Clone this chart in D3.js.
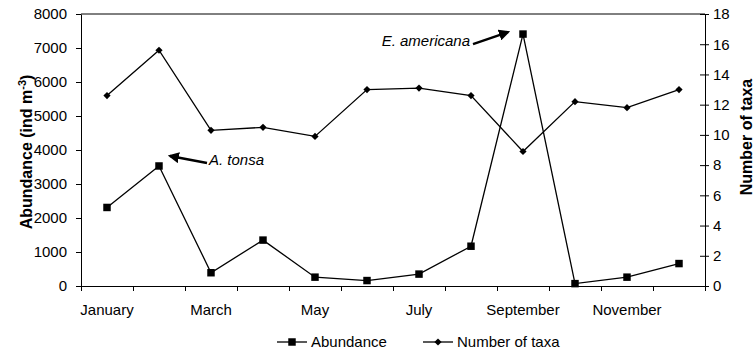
<!DOCTYPE html>
<html>
<head>
<meta charset="utf-8">
<script src="https://cdn.jsdelivr.net/npm/d3@7"></script>
<style>
  body { margin: 0; background: #fff; }
  text { font-family: "Liberation Sans", Arial, sans-serif; fill: #000; }
</style>
</head>
<body>
<svg id="chart" width="755" height="351"></svg>
<script>
const months = ["January", "February", "March", "April", "May", "June",
  "July", "August", "September", "October", "November", "December"];
const abundance = [2310, 3530, 390, 1350, 260, 160, 350, 1170, 7410, 70, 260, 660];
const taxa = [12.6, 15.6, 10.3, 10.5, 9.9, 13.0, 13.1, 12.6, 8.9, 12.2, 11.8, 13.0];
const xLabels = ["January", "March", "May", "July", "September", "November"];
const leftTicks = d3.range(0, 8001, 1000);
const rightTicks = d3.range(0, 19, 2);

const svg = d3.select("#chart");
const pLeft = 81, pRight = 705, pTop = 14, pBottom = 286;

const x = d3.scaleBand().domain(months).range([pLeft, pRight]);
const xEdge = d3.scaleLinear().domain([0, 12]).range([pLeft, pRight]);
const yL = d3.scaleLinear().domain([0, 8000]).range([pBottom, pTop]);
const yR = d3.scaleLinear().domain([0, 18]).range([pBottom, pTop]);
const cx = m => x(m) + x.bandwidth() / 2;

// cadre du haut
svg.append("line")
  .attr("x1", pLeft).attr("x2", pRight)
  .attr("y1", pTop).attr("y2", pTop)
  .attr("stroke", "#000");

// axe gauche
const gL = svg.append("g")
  .attr("transform", `translate(${pLeft},0)`)
  .call(d3.axisLeft(yL).tickValues(leftTicks).tickFormat(d3.format("d"))
    .tickSize(5).tickPadding(9).tickSizeOuter(0));
gL.selectAll("text").style("font-size", "15px");

// axe droit (graduations traversantes)
const gR = svg.append("g")
  .attr("transform", `translate(${pRight},0)`)
  .call(d3.axisRight(yR).tickValues(rightTicks).tickSize(4).tickPadding(4).tickSizeOuter(0));
gR.selectAll(".tick line").attr("x1", -5);
gR.selectAll("text").style("font-size", "15px");

// axe du bas
svg.append("g")
  .attr("transform", `translate(0,${pBottom})`)
  .call(d3.axisBottom(xEdge).tickValues(d3.range(13)).tickFormat("").tickSize(5).tickSizeOuter(0));

svg.selectAll("g path.domain, g .tick line").attr("stroke", "#000");

svg.selectAll(".xlab")
  .data(xLabels)
  .enter().append("text")
  .attr("class", "xlab")
  .attr("x", d => cx(d))
  .attr("y", 315)
  .attr("text-anchor", "middle")
  .style("font-size", "15px")
  .text(d => d);

// titres des axes
const tL = svg.append("text")
  .attr("transform", "translate(32,152) rotate(-90)")
  .attr("text-anchor", "middle")
  .style("font-size", "16px").style("font-weight", "bold");
tL.append("tspan").text("Abundance (ind m");
tL.append("tspan").attr("dy", -6).style("font-size", "11px").text("-3");
tL.append("tspan").attr("dy", 6).text(")");

svg.append("text")
  .attr("transform", "translate(752,137) rotate(-90)")
  .attr("text-anchor", "middle")
  .style("font-size", "16px").style("font-weight", "bold")
  .text("Number of taxa");

// séries
const dataA = months.map((m, i) => ({ m, v: abundance[i] }));
const dataT = months.map((m, i) => ({ m, v: taxa[i] }));

svg.append("path")
  .datum(dataT)
  .attr("fill", "none").attr("stroke", "#000").attr("stroke-width", 1.3)
  .attr("d", d3.line().x(d => cx(d.m)).y(d => yR(d.v)));

svg.append("path")
  .datum(dataA)
  .attr("fill", "none").attr("stroke", "#000").attr("stroke-width", 1.3)
  .attr("d", d3.line().x(d => cx(d.m)).y(d => yL(d.v)));

const sq = d3.symbol().type(d3.symbolSquare).size(56);
const dm = d3.symbol().type(d3.symbolSquare).size(26);  // tourné de 45° = losange

svg.selectAll(".ptT")
  .data(dataT)
  .enter().append("path")
  .attr("class", "ptT")
  .attr("d", dm)
  .attr("transform", d => `translate(${cx(d.m)},${yR(d.v)}) rotate(45)`)
  .attr("fill", "#000");

svg.selectAll(".ptA")
  .data(dataA)
  .enter().append("path")
  .attr("class", "ptA")
  .attr("d", sq)
  .attr("transform", d => `translate(${cx(d.m)},${yL(d.v)})`)
  .attr("fill", "#000");

// annotations
svg.append("defs").append("marker")
  .attr("id", "fleche")
  .attr("viewBox", "0 0 10 10")
  .attr("refX", 8).attr("refY", 5)
  .attr("markerWidth", 4.5).attr("markerHeight", 4.5)
  .attr("orient", "auto")
  .append("path")
  .attr("d", "M0,0 L10,5 L0,10 Z")
  .attr("fill", "#000");

const notes = [
  { m: "February", label: "A. tonsa", tail: [48, -3], head: [11, -10], tx: 50, ty: -1, anchor: "start" },
  { m: "September", label: "E. americana", tail: [-50, 10], head: [-15, -2], tx: -53, ty: 12, anchor: "end" }
];

notes.forEach(n => {
  const i = months.indexOf(n.m);
  const px = cx(n.m), py = yL(abundance[i]);
  svg.append("line")
    .attr("x1", px + n.tail[0]).attr("y1", py + n.tail[1])
    .attr("x2", px + n.head[0]).attr("y2", py + n.head[1])
    .attr("stroke", "#000").attr("stroke-width", 2.5)
    .attr("marker-end", "url(#fleche)");
  svg.append("text")
    .attr("x", px + n.tx).attr("y", py + n.ty)
    .attr("text-anchor", n.anchor)
    .style("font-size", "15px").style("font-style", "italic")
    .text(n.label);
});

// légende
const legend = [
  { label: "Abundance", sym: sq, rot: 0, x: 277 },
  { label: "Number of taxa", sym: dm, rot: 45, x: 423 }
];
const lg = svg.selectAll(".leg")
  .data(legend)
  .enter().append("g")
  .attr("class", "leg")
  .attr("transform", d => `translate(${d.x},342)`);
lg.append("line").attr("x1", 0).attr("x2", 30).attr("stroke", "#000").attr("stroke-width", 1.3);
lg.append("path").attr("d", d => d.sym()).attr("transform", d => `translate(15,0) rotate(${d.rot})`).attr("fill", "#000");
lg.append("text").attr("x", 34).attr("y", 5).style("font-size", "15px").text(d => d.label);
</script>
</body>
</html>
